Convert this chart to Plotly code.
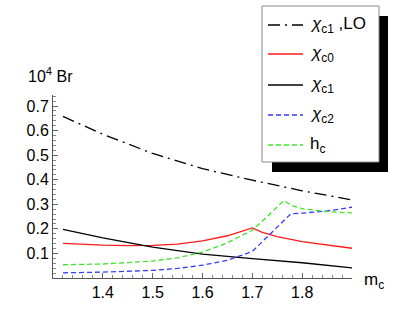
import plotly.graph_objects as go

# ---- data ----
mc_lo = [1.32, 1.40, 1.50, 1.60, 1.70, 1.80, 1.90]
br_lo = [0.658, 0.585, 0.507, 0.445, 0.398, 0.355, 0.318]

mc_c1 = [1.32, 1.40, 1.50, 1.60, 1.70, 1.80, 1.90]
br_c1 = [0.198, 0.163, 0.126, 0.097, 0.079, 0.062, 0.041]

mc_c0 = [1.32, 1.36, 1.40, 1.45, 1.50, 1.55, 1.60, 1.65, 1.70, 1.72, 1.75, 1.80, 1.85, 1.90]
br_c0 = [0.141, 0.136, 0.134, 0.132, 0.133, 0.138, 0.151, 0.172, 0.204, 0.186, 0.168, 0.148, 0.133, 0.121]

mc_c2 = [1.32, 1.40, 1.50, 1.55, 1.60, 1.65, 1.70, 1.75, 1.777, 1.80, 1.85, 1.90]
br_c2 = [0.021, 0.024, 0.031, 0.039, 0.052, 0.072, 0.108, 0.205, 0.261, 0.264, 0.273, 0.288]

mc_hc = [1.32, 1.40, 1.50, 1.55, 1.60, 1.65, 1.70, 1.73, 1.763, 1.78, 1.80, 1.85, 1.90]
br_hc = [0.054, 0.057, 0.069, 0.082, 0.105, 0.143, 0.195, 0.25, 0.315, 0.295, 0.282, 0.270, 0.265]

x_ticks = [1.4, 1.5, 1.6, 1.7, 1.8]
y_ticks = [0.1, 0.2, 0.3, 0.4, 0.5, 0.6, 0.7]

legend_labels = ["<i>χ</i><sub>c1</sub> ,LO", "<i>χ</i><sub>c0</sub>", "<i>χ</i><sub>c1</sub>",
                 "<i>χ</i><sub>c2</sub>", "h<sub>c</sub>"]

RED = "#ff1a1a"
BLACK = "#000000"
BLUE = "#3a3aff"
GREEN = "#3fe52a"
DASHDOT = "12px,5px,2px,5px"
DASH = "5px,3px"

series = [
    (mc_lo, br_lo, BLACK, DASHDOT),
    (mc_c0, br_c0, RED, "solid"),
    (mc_c1, br_c1, BLACK, "solid"),
    (mc_c2, br_c2, BLUE, DASH),
    (mc_hc, br_hc, GREEN, DASH),
]

W, H = 408, 309
L, R, T, B = 53, 56, 95, 31
FONT = "Liberation Sans"

def px(x):
    return (x - L) / (W - L - R)

def py(y):
    return (H - B - y) / (H - T - B)

fig = go.Figure()
for xs, ys, col, dash in series:
    fig.add_trace(go.Scatter(x=xs, y=ys, mode="lines",
                             line=dict(color=col, width=1.3, dash=dash),
                             showlegend=False, hoverinfo="skip"))

shapes = []
annotations = []
# legend shadow and box
shapes.append(dict(type="rect", xref="paper", yref="paper",
                   x0=px(272), x1=px(388), y0=py(172), y1=py(16),
                   fillcolor="black", line=dict(width=0), layer="above"))
shapes.append(dict(type="rect", xref="paper", yref="paper",
                   x0=px(262), x1=px(379), y0=py(162), y1=py(6),
                   fillcolor="white", line=dict(color="#888888", width=1), layer="above"))
rows = [25, 54, 85, 115, 145]
for (xs, ys, col, dash), lab, ry in zip(series, legend_labels, rows):
    shapes.append(dict(type="line", xref="paper", yref="paper",
                       x0=px(268), x1=px(303), y0=py(ry), y1=py(ry),
                       line=dict(color=col, width=1.3, dash=dash), layer="above"))
    annotations.append(dict(xref="paper", yref="paper", x=px(308), y=py(ry),
                            text=lab, showarrow=False, xanchor="left", yanchor="middle",
                            font=dict(size=17, color="black", family=FONT)))

annotations.append(dict(xref="paper", yref="paper", x=px(50), y=py(75),
                        text="10<sup>4</sup> Br", showarrow=False,
                        xanchor="center", yanchor="middle",
                        font=dict(size=16, color="black", family=FONT)))
annotations.append(dict(xref="paper", yref="paper", x=px(362), y=py(281),
                        text="m<sub>c</sub>", showarrow=False,
                        xanchor="left", yanchor="middle",
                        font=dict(size=17, color="black", family=FONT)))

axis_common = dict(showgrid=False, zeroline=False, showline=True, linecolor="#555555",
                   linewidth=1, ticks="inside", ticklen=5, tickcolor="#666666",
                   automargin=False,
                   tickfont=dict(size=16, color="black", family=FONT))

fig.update_layout(
    width=W, height=H,
    margin=dict(l=L, r=R, t=T, b=B, pad=0),
    paper_bgcolor="white", plot_bgcolor="white",
    xaxis=dict(range=[1.30, 1.90], tickvals=x_ticks, ticktext=[f"{v:.1f}" for v in x_ticks],
               minor=dict(dtick=0.02, tick0=1.3, ticks="inside", ticklen=3, tickcolor="#888888"),
               **axis_common),
    yaxis=dict(range=[0, 0.745], tickvals=y_ticks, ticktext=[f"{v:.1f}" for v in y_ticks],
               minor=dict(dtick=0.02, tick0=0, ticks="inside", ticklen=3, tickcolor="#888888"),
               **axis_common),
    shapes=shapes, annotations=annotations,
)

fig.write_html("out.html", config={"displayModeBar": False, "staticPlot": True},
               post_script="document.body.style.margin='0';document.body.style.padding='0';")
